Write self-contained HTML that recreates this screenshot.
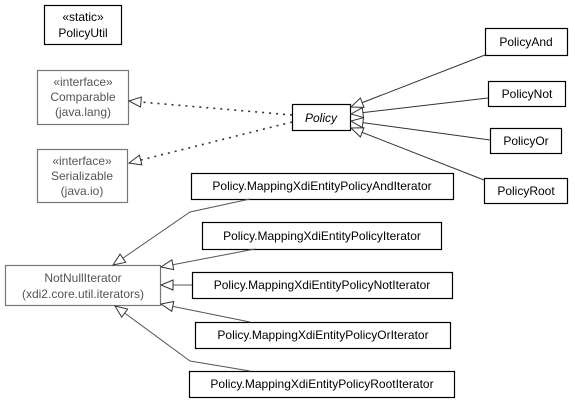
<!DOCTYPE html>
<html><head><style>
body{margin:0;background:#fff;width:575px;height:402px;overflow:hidden;font-family:"Liberation Sans",sans-serif}
</style></head><body>
<svg width="575" height="402" xmlns="http://www.w3.org/2000/svg" font-family="Liberation Sans, sans-serif" font-size="12">
<defs>
<marker id="h" markerWidth="14" markerHeight="12" refX="13" refY="6" orient="auto" markerUnits="userSpaceOnUse">
<path d="M1,1 L13,6 L1,11 Z" fill="#fff" stroke="#333" stroke-width="1"/></marker>
</defs>
<g fill="#fff" stroke="#000" stroke-width="1.2">
<rect x="44.5" y="5.5" width="77" height="39"/>
<rect x="292.5" y="104.5" width="58" height="26"/>
<rect x="485.5" y="28.5" width="82" height="27"/>
<rect x="488.5" y="81.5" width="77" height="25"/>
<rect x="490.5" y="128.5" width="71" height="25"/>
<rect x="484.5" y="178.5" width="83" height="25"/>
<rect x="191.5" y="173.5" width="262" height="26"/>
<rect x="202.5" y="222.5" width="239" height="27"/>
<rect x="192.5" y="272.5" width="260" height="26"/>
<rect x="195.5" y="322.5" width="255" height="26"/>
<rect x="189.5" y="371.5" width="265" height="26"/>
</g>
<g fill="#fff" stroke="#777" stroke-width="1.2">
<rect x="37.5" y="70.5" width="91" height="54"/>
<rect x="37.5" y="149.5" width="90" height="53"/>
<rect x="5.5" y="265.5" width="155" height="40"/>
</g>
<g fill="none" stroke="#333" stroke-width="1">
<path d="M292,115 L129,101" stroke-dasharray="2,5" stroke-width="1.6" marker-end="url(#h)"/>
<path d="M292,122 L129,163" stroke-dasharray="2,5" stroke-width="1.6" marker-end="url(#h)"/>
<path d="M485,55 L351,107" marker-end="url(#h)"/>
<path d="M488,98 L351,114" marker-end="url(#h)"/>
<path d="M490,140 L351,121" marker-end="url(#h)"/>
<path d="M484,180 L351,128" marker-end="url(#h)"/>
<path d="M250,199 L190,212 L113,265" stroke="#555" marker-end="url(#h)"/>
<path d="M255,249 L161,267" stroke="#555" marker-end="url(#h)"/>
<path d="M192,285 L161,285" stroke="#555" marker-end="url(#h)"/>
<path d="M250,322 L161,304" stroke="#555" marker-end="url(#h)"/>
<path d="M250,371 L190,361 L115,306" stroke="#555" marker-end="url(#h)"/>
</g>
<g text-anchor="middle" fill="#000">
<text x="83" y="21">«static»</text>
<text x="83" y="37">PolicyUtil</text>
<text x="321" y="122" font-style="italic">Policy</text>
<text x="526" y="46">PolicyAnd</text>
<text x="527" y="98">PolicyNot</text>
<text x="526" y="145">PolicyOr</text>
<text x="526" y="195">PolicyRoot</text>
<text x="322" y="190">Policy.MappingXdiEntityPolicyAndIterator</text>
<text x="322" y="240">Policy.MappingXdiEntityPolicyIterator</text>
<text x="322" y="289">Policy.MappingXdiEntityPolicyNotIterator</text>
<text x="323" y="339">Policy.MappingXdiEntityPolicyOrIterator</text>
<text x="322" y="388">Policy.MappingXdiEntityPolicyRootIterator</text>
</g>
<g text-anchor="middle" fill="#555">
<text x="83" y="86">«interface»</text>
<text x="83" y="101">Comparable</text>
<text x="83" y="116">(java.lang)</text>
<text x="82" y="165">«interface»</text>
<text x="82" y="180">Serializable</text>
<text x="82" y="195">(java.io)</text>
<text x="83" y="282">NotNullIterator</text>
<text x="83" y="298">(xdi2.core.util.iterators)</text>
</g>
</svg>
</body></html>
